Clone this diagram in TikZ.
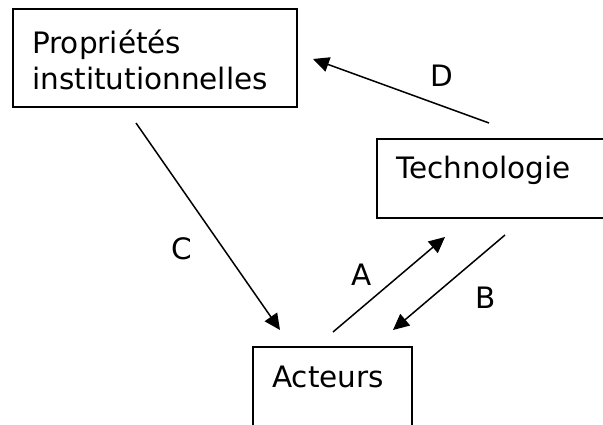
\documentclass[tikz,border=0pt]{standalone}
\usepackage{fontspec}
\setmainfont{DejaVu Sans}
\usetikzlibrary{arrows.meta}
\begin{document}
\begin{tikzpicture}[x=1pt,y=-1pt,
  box/.style={draw,line width=1.6pt,inner sep=0pt},
  lbl/.style={font=\fontsize{29.5}{36}\selectfont,inner sep=0pt},
  arr/.style={line width=1.5pt,-{Triangle[length=16pt,width=15pt]}}]
\useasboundingbox (0,0) rectangle (603,425);
\clip (0,0) rectangle (603,425);
\node[box,minimum width=284pt,minimum height=98pt] (pbox) at (155,58) {};
\node[box,minimum width=250pt,minimum height=79pt] (tbox) at (502,178.5) {};
\node[box,minimum width=159pt,minimum height=110pt] (abox) at (332.5,402) {};
\node[lbl,anchor=west,align=left] (ptext) at (32,60) {Propriétés\\institutionnelles};
\node[lbl] (ttext) at (483.5,170) {Technologie};
\node[lbl] (atext) at (328,377) {Acteurs};
\coordinate (d1) at (489,123);
\coordinate (d2) at (313,59);
\coordinate (c1) at (136,123);
\coordinate (c2) at (280,330);
\coordinate (a1) at (333,332);
\coordinate (a2) at (445,237);
\coordinate (b1) at (505,235);
\coordinate (b2) at (393,330);
\draw[arr] (d1) -- (d2);
\draw[arr] (c1) -- (c2);
\draw[arr] (a1) -- (a2);
\draw[arr] (b1) -- (b2);
\node[lbl] (ld) at (442,76) {D};
\node[lbl] (lc) at (182,249) {C};
\node[lbl] (la) at (362,275) {A};
\node[lbl] (lb) at (486,298) {B};
\end{tikzpicture}
\end{document}
